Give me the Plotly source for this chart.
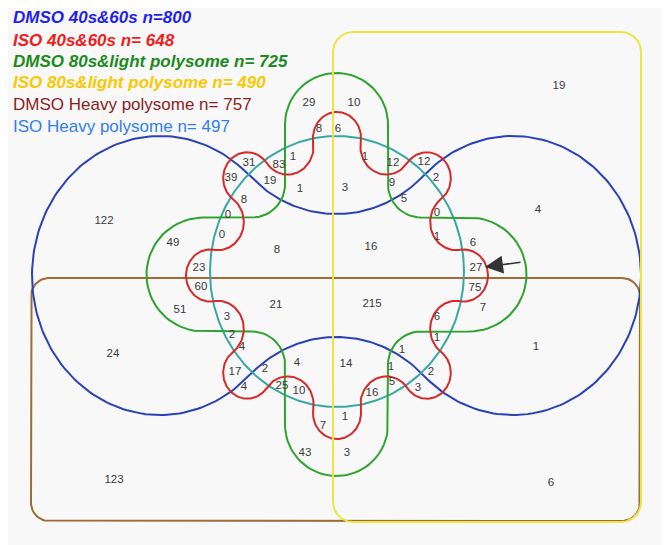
import numpy as np
import plotly.graph_objects as go

W, H = 669, 545
PAGE_MARGIN = 8  # browser body margin

# ---------------- data ----------------
set_names = ["DMSO 40s&60s", "ISO 40s&60s", "DMSO 80s&light polysome",
             "ISO 80s&light polysome", "DMSO Heavy polysome", "ISO Heavy polysome"]
set_sizes = [800, 648, 725, 490, 757, 497]
size_sep = ["", " ", " ", " ", " ", " "]

region_counts = [19, 29, 10, 8, 6, 31, 83, 1, 1, 12, 12, 39, 19, 2, 1, 3, 9, 8, 5, 4,
                 0, 0, 0, 1, 122, 49, 8, 16, 6, 23, 27, 60, 75, 21, 215, 51, 3, 7, 6, 1,
                 24, 2, 4, 1, 1, 1, 17, 2, 4, 14, 2, 5, 4, 25, 10, 16, 3, 1, 7, 43, 3, 123, 6]

# ---------------- layout positions (pixel space) ----------------
label_x = [559, 309, 354, 319, 338, 249, 279, 293, 365, 393, 424, 231, 270, 436, 300, 345, 392, 244, 404, 538,
           228, 437, 222, 437, 104, 173, 277, 371, 473, 199, 476, 201, 475, 276, 372, 180, 227, 483, 437, 437,
           113, 232, 242, 402, 536, 391, 235, 265, 297, 346, 431, 392, 244, 282, 299, 372, 418, 345, 323, 305, 347, 114, 551]
label_y = [86, 103, 103, 129, 129, 163, 165, 157, 157, 163, 162, 178, 181, 178, 189, 188, 183, 200, 199, 210,
           215, 213, 235, 237, 221, 243, 250, 247, 243, 268, 268, 287, 288, 305, 304, 310, 317, 308, 317, 338,
           354, 335, 347, 350, 347, 367, 372, 369, 363, 364, 372, 382, 387, 386, 391, 393, 388, 417, 426, 453, 453, 480, 483]

legend_colors = ["#1f1ff0", "#f21b1b", "#1d8a1d", "#fac800", "#8b1e1e", "#2f7ff0"]
legend_bold = [True, True, True, True, False, False]
legend_y = [17.5, 40, 61.5, 82.5, 104.5, 126]

line_colors = {"blue": "#2a42b6", "red": "#d62a2a", "green": "#2fa32f",
               "yellow": "#ece545", "brown": "#9e6c35", "teal": "#3aa6a6"}


def arc(cx, cy, r, a0, a1, n=60, sy=1.0):
    t = np.radians(np.linspace(a0, a1, n))
    return cx + r * np.cos(t), cy + sy * r * np.sin(t)


def join(parts):
    xs = np.concatenate([p[0] for p in parts])
    ys = np.concatenate([p[1] for p in parts])
    return np.append(xs, xs[0]), np.append(ys, ys[0])


def rounded_rect(x0, y0, x1, y1, r):
    return join([
        arc(x1 - r, y0 + r, r, -90, 0, 20),
        arc(x1 - r, y1 - r, r, 0, 90, 20),
        arc(x0 + r, y1 - r, r, 90, 180, 20),
        arc(x0 + r, y0 + r, r, 180, 270, 20),
    ])


def blue_shape(cx, cy, d, R, g, sy):
    Rc = (d ** 2 + g ** 2 - R ** 2) / (2 * (R - g))
    psi = np.degrees(np.arctan2(g + Rc, d))
    parts = [
        arc(d, 0, R, 180 - psi, -(180 - psi), 160),
        arc(0, -(g + Rc), Rc, psi, 180 - psi, 80),
        arc(-d, 0, R, -psi, -(360 - psi), 160),
        arc(0, g + Rc, Rc, psi - 180, -psi, 80),
    ]
    xs, ys = join(parts)
    return cx + xs, cy - sy * ys


def plus_shape(cx, cy, hw, Lv, hh, Lh, f):
    parts = [
        arc(0, -(Lv - hw), hw, 180, 360, 40),
        arc(hw + f, -hh - f, f, 180, 90, 15),
        arc(Lh - hh, 0, hh, 270, 450, 40),
        arc(hw + f, hh + f, f, 270, 180, 15),
        arc(0, Lv - hw, hw, 0, 180, 40),
        arc(-hw - f, hh + f, f, 0, -90, 15),
        arc(-(Lh - hh), 0, hh, 90, 270, 40),
        arc(-hw - f, -hh - f, f, 90, 0, 15),
    ]
    xs, ys = join(parts)
    return cx + xs, cy + ys


def flower_shape(cx, cy, sy, rho_l, r_l, dip_inner, n_lobes=8):
    # chain of tangent circles: convex lobe caps and concave dips
    half = np.pi / n_lobes
    c = np.cos(half)
    a = dip_inner
    r_d = (rho_l ** 2 + a ** 2 - 2 * rho_l * a * c - r_l ** 2) / (2 * (r_l + rho_l * c - a))
    rho_d = a + r_d
    lob = [np.array([rho_l * np.cos(2 * k * half), rho_l * np.sin(2 * k * half)]) for k in range(n_lobes)]
    dip = [np.array([rho_d * np.cos((2 * k + 1) * half), rho_d * np.sin((2 * k + 1) * half)]) for k in range(n_lobes)]
    xs, ys = [], []
    for k in range(n_lobes):
        L = lob[k]
        Dp, Dn = dip[k - 1], dip[k]
        a1 = np.arctan2(*(Dp - L)[::-1])
        a2 = np.arctan2(*(Dn - L)[::-1])
        while a2 <= a1:
            a2 += 2 * np.pi
        t = np.linspace(a1, a2, 60)
        xs.append(L[0] + r_l * np.cos(t)); ys.append(L[1] + r_l * np.sin(t))
        Ln = lob[(k + 1) % n_lobes]
        b1 = np.arctan2(*(L - Dn)[::-1])
        b2 = np.arctan2(*(Ln - Dn)[::-1])
        while b2 >= b1:
            b2 -= 2 * np.pi
        t = np.linspace(b1, b2, 40)
        xs.append(Dn[0] + r_d * np.cos(t)); ys.append(Dn[1] + r_d * np.sin(t))
    x = np.concatenate(xs); y = np.concatenate(ys)
    x = np.append(x, x[0]); y = np.append(y, y[0])
    return cx + x, cy - sy * y


fig = go.Figure()


def add_line(xy, color, width=2.0):
    fig.add_trace(go.Scatter(x=xy[0], y=xy[1], mode="lines",
                             line=dict(color=color, width=width),
                             hoverinfo="skip", showlegend=False))


add_line(rounded_rect(31, 278, 640, 521, 18), line_colors["brown"])
add_line(blue_shape(336.5, 275.5, 176.5, 128, 56.4, 1.09), line_colors["blue"])
t = np.linspace(0, 2 * np.pi, 300)
add_line((337 + 127 * np.cos(t), 271.5 + 135.5 * np.sin(t)), line_colors["teal"])
add_line(plus_shape(336.5, 274.5, 51.5, 201.5, 57, 190, 33), line_colors["green"])
add_line(flower_shape(337, 275.5, 1.083, 127, 24, 103), line_colors["red"])
add_line(rounded_rect(333, 32, 641, 522, 20), line_colors["yellow"])

fig.add_trace(go.Scatter(x=label_x, y=label_y, mode="text",
                         text=[str(v) for v in region_counts],
                         textfont=dict(family="Liberation Sans, Arial", size=11.5, color="#3a3a3a"),
                         hoverinfo="skip", showlegend=False))

annotations = []
for i, name in enumerate(set_names):
    txt = f"{name} n={size_sep[i]}{set_sizes[i]}"
    if legend_bold[i]:
        txt = f"<b><i>{txt}</i></b>"
    annotations.append(dict(x=11, y=legend_y[i], xref="x", yref="y", text=txt,
                            showarrow=False, xanchor="left", yanchor="middle",
                            font=dict(family="Liberation Sans, Arial", size=17, color=legend_colors[i])))

annotations.append(dict(x=485, y=267, ax=522, ay=262, xref="x", yref="y", axref="x", ayref="y",
                        text="", showarrow=True, arrowhead=2, arrowsize=2.4, arrowwidth=1.5,
                        arrowcolor="#333333", standoff=0))

FW, FH = W - PAGE_MARGIN, H - PAGE_MARGIN
fig.update_layout(
    width=FW, height=FH, margin=dict(l=0, r=0, t=0, b=0),
    paper_bgcolor="#f8f8f8", plot_bgcolor="rgba(0,0,0,0)",
    xaxis=dict(range=[PAGE_MARGIN, W], visible=False, fixedrange=True),
    yaxis=dict(range=[H, PAGE_MARGIN], visible=False, fixedrange=True),
    annotations=annotations,
)

fig.write_html("out.html")
